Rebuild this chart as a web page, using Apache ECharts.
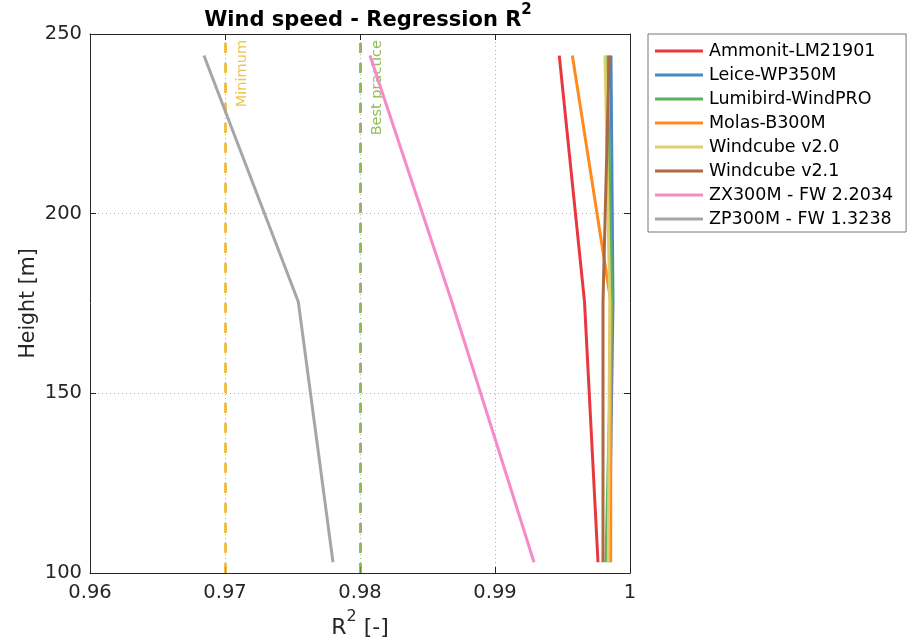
<!DOCTYPE html>
<html><head><meta charset="utf-8">
<script src="https://cdn.jsdelivr.net/npm/echarts@6/dist/echarts.min.js"></script>
<style>html,body{margin:0;padding:0;background:#fff}#c{width:912px;height:644px}</style>
</head><body><div id="c"></div>
<script>
// ---- data ----
const heights = [103, 175.5, 244];
const seriesNames = ['Ammonit-LM21901','Leice-WP350M','Lumibird-WindPRO','Molas-B300M','Windcube v2.0','Windcube v2.1','ZX300M - FW 2.2034','ZP300M - FW 1.3238'];
const r2_ammonit = [0.99763, 0.99663, 0.99476];
const r2_leice = [0.99846, 0.99874, 0.99859];
const r2_lumibird = [0.99822, 0.99866, 0.99830];
const r2_molas = [0.99857, 0.99858, 0.99573];
const r2_wc20 = [0.99839, 0.99850, 0.99815];
const r2_wc21 = [0.99800, 0.99800, 0.99846];
const r2_zx = [0.99289, 0.98680, 0.98074];
const r2_zp = [0.97800, 0.97543, 0.96844];
const seriesValues = [r2_ammonit, r2_leice, r2_lumibird, r2_molas, r2_wc20, r2_wc21, r2_zx, r2_zp];
const colors = ['#e8383d','#4a88c0','#5cb25a','#ff8a1e','#e0cf6e','#ad6a3e','#f58bc8','#a6a6a6'];
const refLines = [{name:'Minimum', value:0.97, color:'#EDB120'},{name:'Best practice', value:0.98, color:'#77AC30'}];
const xTicks = [0.96, 0.97, 0.98, 0.99, 1.0];
const yTicks = [100, 150, 200, 250];

const FONT = 'DejaVu Sans';
const chart = echarts.init(document.getElementById('c'));

const series = seriesNames.map((n, i) => ({
  name: n, type: 'line', symbol: 'none', showSymbol: false,
  data: heights.map((h, k) => [seriesValues[i][k], h]),
  lineStyle: {width: 3, color: colors[i]}, itemStyle: {color: colors[i]},
  z: 5 + i, animation: false
}));
refLines.forEach(r => {
  series.push({
    type: 'line', data: [], silent: true, z: 3,
    markLine: {
      silent: true, symbol: 'none', animation: false,
      lineStyle: {type: [10, 10], color: r.color, width: 3, opacity: 0.8},
      label: {show: true, formatter: r.name, position: 'insideEndBottom', color: r.color,
              fontFamily: FONT, fontSize: 14.5, distance: [6, 10]},
      data: [{xAxis: r.value}]
    }
  });
});

const axisCommon = {
  axisLine: {show: true, onZero: false, lineStyle: {color: '#262626', width: 1}},
  axisTick: {show: true, inside: true, length: 6, lineStyle: {color: '#262626'}},
};

chart.setOption({
  animation: false,
  backgroundColor: '#fff',
  title: {
    text: '{a|Wind speed - Regression R}{s|2}', left: 363, textAlign: 'center', top: -2,
    textStyle: {rich: {
      a: {fontFamily: FONT, fontWeight: 'bold', fontSize: 21, color: '#000', lineHeight: 28, verticalAlign: 'bottom'},
      s: {fontFamily: FONT, fontWeight: 'bold', fontSize: 15, color: '#000', lineHeight: 15, verticalAlign: 'top'}
    }}
  },
  grid: {left: 90, right: 282, top: 34, bottom: 70, containLabel: false},
  legend: {
    orient: 'vertical', left: 648, top: 34,
    data: seriesNames.map(n => ({name: n, icon: 'path://M0,0 L48,0 L48,3 L0,3 Z'})),
    itemWidth: 48, itemHeight: 16, itemGap: 6,
    padding: [8, 13, 4, 7],
    borderColor: '#777', borderWidth: 1, backgroundColor: '#fff',
    textStyle: {fontFamily: FONT, fontSize: 17.5, color: '#000', padding: [0, 0, 0, 1]},
    selectedMode: false
  },
  xAxis: [{
    type: 'value', min: 0.96, max: 1.0, interval: 0.01, position: 'bottom',
    ...axisCommon,
    axisLabel: {fontFamily: FONT, fontSize: 19.5, color: '#262626', margin: 10,
      formatter: v => { const t = xTicks.find(x => Math.abs(x - v) < 1e-9); return t === undefined ? '' : String(+t.toFixed(2)); }},
    splitLine: {show: true, lineStyle: {type: [1, 3], color: '#b0b0b0', width: 1}},
    name: '{a|R}{s|2}{a| [-]}', nameLocation: 'middle', nameGap: 36, nameMoveOverlap: false,
    nameTextStyle: {rich: {
      a: {fontFamily: FONT, fontSize: 22, color: '#262626', lineHeight: 30, verticalAlign: 'bottom'},
      s: {fontFamily: FONT, fontSize: 16, color: '#262626', lineHeight: 16, verticalAlign: 'top'}
    }}
  }, {
    type: 'value', min: 0.96, max: 1.0, interval: 0.01, position: 'top',
    ...axisCommon, axisLabel: {show: false}, splitLine: {show: false}
  }],
  yAxis: [{
    type: 'value', min: 100, max: 250, interval: 50, position: 'left',
    ...axisCommon,
    axisLabel: {fontFamily: FONT, fontSize: 19.5, color: '#262626', margin: 8,
      formatter: v => (yTicks.includes(v) ? String(v) : '')},
    splitLine: {show: true, lineStyle: {type: [1, 3], color: '#b0b0b0', width: 1}},
    name: 'Height [m]', nameLocation: 'middle', nameGap: 51, nameMoveOverlap: false,
    nameTextStyle: {fontFamily: FONT, fontSize: 20.5, color: '#262626'}
  }, {
    type: 'value', min: 100, max: 250, interval: 50, position: 'right',
    ...axisCommon, axisLabel: {show: false}, splitLine: {show: false}
  }],
  series: series
});
</script></body></html>
